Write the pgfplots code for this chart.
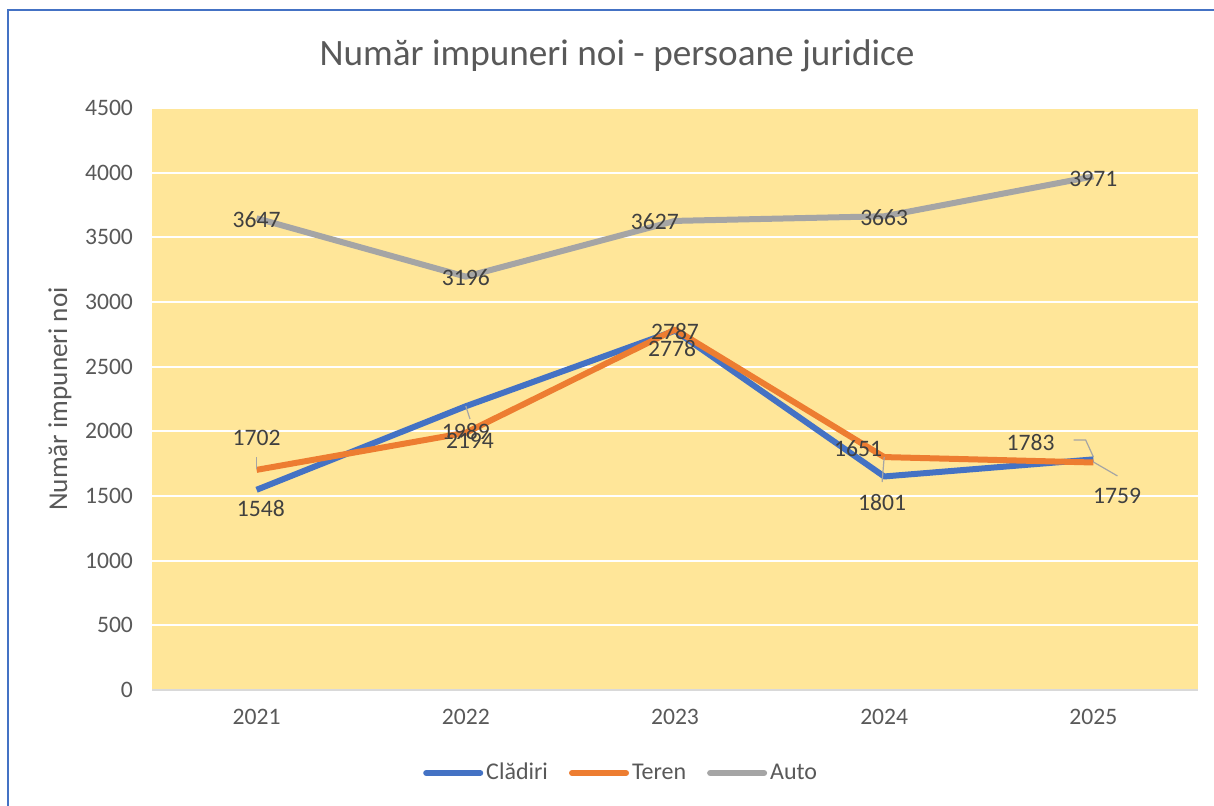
\documentclass[border=0pt]{standalone}
\usepackage{fontspec}
\setmainfont{Carlito}
\usepackage{pgfplots}
\pgfplotsset{compat=1.18}
\definecolor{plotbg}{HTML}{FFE699}
\definecolor{cblue}{HTML}{4472C4}
\definecolor{corange}{HTML}{ED7D31}
\definecolor{cgray}{HTML}{A5A5A5}
\definecolor{ticktext}{HTML}{595959}
\definecolor{labtext}{HTML}{404040}
\definecolor{axgray}{HTML}{D9D9D9}
\begin{document}
\begin{tikzpicture}
\useasboundingbox (0,0) rectangle (607pt,403pt);
\fill[white] (0,0) rectangle (607pt,403pt);
\draw[cblue, line width=1pt] (4pt,0) -- (4pt,398pt) -- (607pt,398pt);
\begin{axis}[
  at={(76pt,58pt)}, anchor=south west,
  scale only axis, width=523pt, height=291pt,
  xmin=-0.5, xmax=4.5, ymin=0, ymax=4500,
  xtick={0,1,2,3,4}, xticklabels={2021,2022,2023,2024,2025},
  ytick={0,500,...,4500},
  axis background/.style={fill=plotbg},
  axis x line*=bottom, axis y line*=left,
  x axis line style={draw=axgray, line width=0.8pt, -},
  y axis line style={draw=none},
  ymajorgrids, grid style={white, line width=1pt},
  major tick length=0pt,
  /pgf/number format/assume math mode=true,
  /pgf/number format/1000 sep={},
  tick label style={font=\fontsize{11.8}{14}\selectfont, color=ticktext},
  xticklabel style={yshift=-6pt},
  yticklabel style={xshift=-6pt},
  title={Număr impuneri noi - persoane juridice},
  title style={font=\fontsize{18.6}{21}\selectfont, color=ticktext, at={(axis description cs:0.4446,1.069)}, anchor=center},
  ylabel={Număr impuneri noi},
  ylabel style={font=\fontsize{13.6}{15}\selectfont, color=ticktext, at={(axis description cs:-0.088,0.5)}, anchor=center},
  legend style={at={(axis description cs:0.449,-0.1426)}, anchor=center, legend columns=3, draw=none, fill=none,
    font=\fontsize{12}{14}\selectfont, text=ticktext,
    nodes={inner xsep=1.5pt},
    /tikz/every even column/.append style={column sep=9pt}},
  legend image code/.code={\draw[#1, line cap=round] (0pt,0pt) -- (27pt,0pt);},
  clip=false,
]
\addplot[cblue, line width=3pt, line join=round] coordinates {(0,1548) (1,2194) (2,2778) (3,1651) (4,1783)};
\addlegendentry{Clădiri}
\addplot[corange, line width=3pt, line join=round] coordinates {(0,1702) (1,1989) (2,2787) (3,1801) (4,1759)};
\addlegendentry{Teren}
\addplot[cgray, line width=3pt, line join=round] coordinates {(0,3647) (1,3196) (2,3627) (3,3663) (4,3971)};
\addlegendentry{Auto}
% leader lines
\draw[cgray, line width=0.6pt] (axis cs:0,1800) -- (axis cs:0,1710);
\draw[cgray, line width=0.6pt] (axis cs:1,2196) -- (axis cs:1.02,2095);
\draw[cgray, line width=0.6pt] (axis cs:3,1802) -- (axis cs:2.99,1608);
\draw[cgray, line width=0.6pt] (axis cs:3.906,1933) -- (axis cs:3.963,1933) -- (axis cs:4,1802);
\draw[cgray, line width=0.6pt] (axis cs:4,1763) -- (axis cs:4.115,1655);
% data labels
\begin{scope}[every node/.style={font=\fontsize{11.8}{14}\selectfont, text=labtext, inner sep=0pt}]
\node at (axis cs:0,3634) {3647};
\node at (axis cs:1,3186) {3196};
\node at (axis cs:1.904,3619) {3627};
\node at (axis cs:3,3650) {3663};
\node at (axis cs:4,3951) {3971};
\node at (axis cs:0,1948) {1702};
\node at (axis cs:0.02,1400) {1548};
\node at (axis cs:1.02,1925) {2194};
\node at (axis cs:1,1995) {1989};
\node at (axis cs:2,2768) {2787};
\node at (axis cs:1.986,2644) {2778};
\node at (axis cs:2.875,1863) {1651};
\node at (axis cs:2.99,1446) {1801};
\node at (axis cs:3.7,1910) {1783};
\node at (axis cs:4.113,1500) {1759};
\end{scope}
\end{axis}
\end{tikzpicture}
\end{document}
